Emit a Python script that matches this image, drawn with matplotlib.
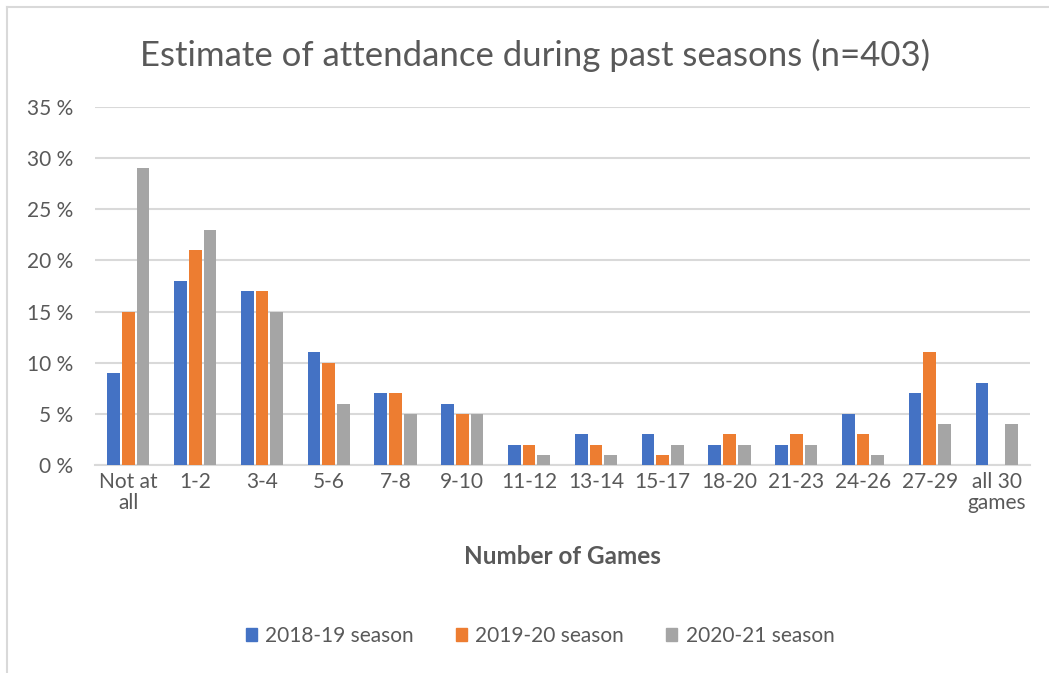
import matplotlib.pyplot as plt
import numpy as np
from matplotlib.lines import Line2D

plt.rcParams['font.family'] = ['Lato', 'DejaVu Sans']

categories = ['Not at\nall', '1-2', '3-4', '5-6', '7-8', '9-10', '11-12', '13-14',
              '15-17', '18-20', '21-23', '24-26', '27-29', 'all 30\ngames']
season_1819 = [9, 18, 17, 11, 7, 6, 2, 3, 3, 2, 2, 5, 7, 8]
season_1920 = [15, 21, 17, 10, 7, 5, 2, 2, 1, 3, 3, 3, 11, 0]
season_2021 = [29, 23, 15, 6, 5, 5, 1, 1, 2, 2, 2, 1, 4, 4]
series_names = ['2018-19 season', '2019-20 season', '2020-21 season']
colors = ['#4472C4', '#ED7D31', '#A5A5A5']

text_col = '#595959'
W, H = 1049, 673
fig = plt.figure(figsize=(W / 100, H / 100), dpi=100)

# plot area in pixel coords
left, right, top, bottom = 95, 1030, 107, 465
ax = fig.add_axes([left / W, 1 - bottom / H, (right - left) / W, (bottom - top) / H])

x = np.arange(len(categories))
bw = 0.19
step = 0.22
for i, (vals, name, c) in enumerate(zip([season_1819, season_1920, season_2021], series_names, colors)):
    ax.bar(x + (i - 1) * step, vals, width=bw, color=c, label=name, zorder=3)

ax.set_xlim(-0.5, len(categories) - 0.5)
ax.set_ylim(0, 35)
ax.set_yticks(range(0, 36, 5))
ax.set_yticklabels([f'{v} %' for v in range(0, 36, 5)])
ax.set_xticks(x)
ax.set_xticklabels(categories, linespacing=1.05)
ax.grid(axis='y', color='#D9D9D9', linewidth=1.5, zorder=0)
for s in ['top', 'right', 'left']:
    ax.spines[s].set_visible(False)
ax.spines['bottom'].set_color('#D9D9D9')
ax.spines['bottom'].set_linewidth(1.5)
ax.tick_params(length=0, labelsize=15, labelcolor=text_col)
ax.tick_params(axis='y', pad=16)
ax.tick_params(axis='x', pad=5)

ax.set_xlabel('Number of Games', fontsize=17.5, fontweight='bold', color=text_col, labelpad=23)

fig.text(535 / W, 1 - 55 / H, 'Estimate of attendance during past seasons (n=403)',
         ha='center', va='center', fontsize=25, color=text_col)

handles = [plt.Rectangle((0, 0), 1, 1, color=c) for c in colors]
fig.legend(handles, series_names, loc='center', bbox_to_anchor=(540 / W, 1 - 636 / H),
           ncol=3, frameon=False, fontsize=15, labelcolor=text_col,
           handlelength=0.55, handleheight=0.55, handletextpad=0.4, columnspacing=2.0)

# outer chart frame (left and top edges)
fig.add_artist(Line2D([7 / W, 7 / W], [0, 1 - 7 / H], color='#D9D9D9', linewidth=1.5,
                      transform=fig.transFigure))
fig.add_artist(Line2D([7 / W, 1], [1 - 7 / H, 1 - 7 / H], color='#D9D9D9', linewidth=1.5,
                      transform=fig.transFigure))

fig.savefig('out.png', dpi=100, facecolor='white')
